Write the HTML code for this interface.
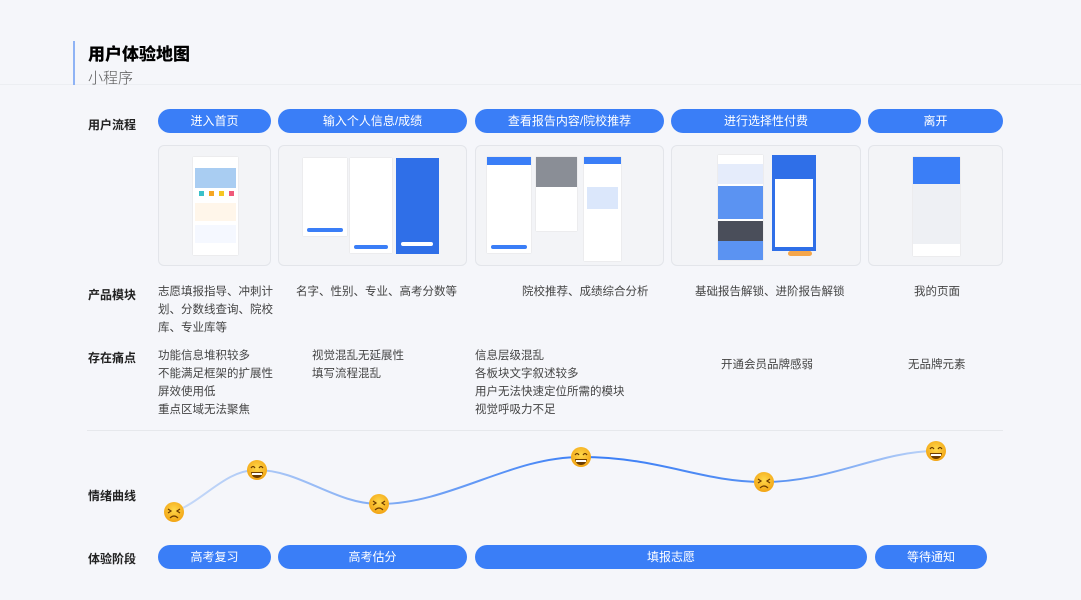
<!DOCTYPE html>
<html><head><meta charset="utf-8"><style>
*{margin:0;padding:0;box-sizing:border-box}
body{width:1081px;height:600px;background:#f5f6fa;position:relative;overflow:hidden;font-family:"Liberation Sans","Noto Sans CJK SC",sans-serif;color:#333}
.a{position:absolute}
.pill{position:absolute;height:24px;border-radius:12px;background:#3a7ef7;color:#fff;font-size:12px;line-height:24px;text-align:center}
.lbl{position:absolute;left:88px;font-size:12px;font-weight:bold;color:#222}
.card{position:absolute;top:145px;height:121px;border:1px solid #e3e5ea;border-radius:6px;background:#f3f4f7}
.ph{position:absolute;background:#fff;box-shadow:0 0 1px #ccc}
.t{position:absolute;font-size:11.5px;line-height:18px;color:#444}
.b{position:absolute;background:#3a7ef7}
.g{position:absolute;background:#e6e9ef}
</style></head><body>
<div class="a" style="left:0;top:84px;width:1081px;height:1px;background:#eceef2"></div>
<div class="a" style="left:73px;top:41px;width:2px;height:44px;background:#8fb3f5"></div>
<div class="a" style="left:88px;top:40px;font-size:17px;font-weight:900;color:#000">用户体验地图</div>
<div class="a" style="left:88px;top:67px;font-size:15px;color:#555;font-weight:300">小程序</div>

<div class="lbl" style="top:116px">用户流程</div>
<div class="pill" style="left:158px;top:109px;width:113px">进入首页</div>
<div class="pill" style="left:278px;top:109px;width:189px">输入个人信息/成绩</div>
<div class="pill" style="left:475px;top:109px;width:189px">查看报告内容/院校推荐</div>
<div class="pill" style="left:671px;top:109px;width:190px">进行选择性付费</div>
<div class="pill" style="left:868px;top:109px;width:135px">离开</div>

<div class="card" style="left:158px;width:113px">
 <div class="ph" style="left:34px;top:11px;width:45px;height:98px">
  <div class="a" style="left:2px;top:11px;width:41px;height:20px;background:#a9cdf2"></div>
  <div class="a" style="left:6px;top:34px;width:5px;height:5px;background:#3bc1c9"></div>
  <div class="a" style="left:16px;top:34px;width:5px;height:5px;background:#f5a623"></div>
  <div class="a" style="left:26px;top:34px;width:5px;height:5px;background:#f5c623"></div>
  <div class="a" style="left:36px;top:34px;width:5px;height:5px;background:#f05a7a"></div>
  <div class="a" style="left:2px;top:46px;width:41px;height:18px;background:#fff6ea"></div>
  <div class="a" style="left:2px;top:68px;width:41px;height:18px;background:#f5f8ff"></div>
 </div>
</div>
<div class="card" style="left:278px;width:189px">
 <div class="ph" style="left:24px;top:12px;width:44px;height:78px"><div class="b" style="left:4px;top:70px;width:36px;height:4px;border-radius:2px"></div></div>
 <div class="ph" style="left:71px;top:12px;width:42px;height:95px"><div class="b" style="left:4px;top:87px;width:34px;height:4px;border-radius:2px"></div></div>
 <div class="b" style="left:117px;top:12px;width:43px;height:96px;background:#2f6fe8"><div class="a" style="left:5px;top:84px;width:32px;height:4px;background:#fff;border-radius:2px"></div></div>
</div>
<div class="card" style="left:475px;width:189px">
 <div class="ph" style="left:11px;top:11px;width:44px;height:96px"><div class="b" style="left:0;top:0;width:44px;height:8px"></div><div class="b" style="left:4px;top:88px;width:36px;height:4px;border-radius:2px"></div></div>
 <div class="ph" style="left:60px;top:11px;width:41px;height:74px"><div class="a" style="left:0;top:0;width:41px;height:30px;background:#8a8e96"></div></div>
 <div class="ph" style="left:108px;top:11px;width:37px;height:104px"><div class="b" style="left:0;top:0;width:37px;height:7px"></div><div class="a" style="left:3px;top:30px;width:31px;height:22px;background:#dbe7fb"></div></div>
</div>
<div class="card" style="left:671px;width:190px">
 <div class="ph" style="left:46px;top:9px;width:45px;height:105px"><div class="a" style="left:0;top:9px;width:45px;height:20px;background:#e5ecfb"></div><div class="b" style="left:0;top:31px;width:45px;height:33px;background:#5b93f2"></div><div class="a" style="left:0;top:66px;width:45px;height:20px;background:#4a4e5a"></div><div class="b" style="left:0;top:86px;width:45px;height:19px;background:#5b93f2"></div></div>
 <div class="b" style="left:100px;top:9px;width:44px;height:96px;background:#2f6fe8"><div class="a" style="left:3px;top:24px;width:38px;height:68px;background:#fff"></div></div>
 <div class="a" style="left:116px;top:105px;width:24px;height:5px;border-radius:3px;background:#f5a64a"></div>
</div>
<div class="card" style="left:868px;width:135px">
 <div class="ph" style="left:44px;top:11px;width:47px;height:99px"><div class="b" style="left:0;top:0;width:47px;height:27px"></div><div class="g" style="left:0;top:27px;width:47px;height:60px;background:#eef0f4"></div></div>
</div>

<div class="lbl" style="top:286px">产品模块</div>
<div class="t" style="left:158px;top:283px;width:118px">志愿填报指导、冲刺计划、分数线查询、院校库、专业库等</div>
<div class="t" style="left:296px;top:283px">名字、性别、专业、高考分数等</div>
<div class="t" style="left:522px;top:283px">院校推荐、成绩综合分析</div>
<div class="t" style="left:695px;top:283px">基础报告解锁、进阶报告解锁</div>
<div class="t" style="left:914px;top:283px">我的页面</div>

<div class="lbl" style="top:349px">存在痛点</div>
<div class="t" style="left:158px;top:347px">功能信息堆积较多<br>不能满足框架的扩展性<br>屏效使用低<br>重点区域无法聚焦</div>
<div class="t" style="left:312px;top:347px">视觉混乱无延展性<br>填写流程混乱</div>
<div class="t" style="left:475px;top:347px">信息层级混乱<br>各板块文字叙述较多<br>用户无法快速定位所需的模块<br>视觉呼吸力不足</div>
<div class="t" style="left:721px;top:356px">开通会员品牌感弱</div>
<div class="t" style="left:908px;top:356px">无品牌元素</div>

<div class="a" style="left:87px;top:430px;width:916px;height:1px;background:#e6e8ec"></div>
<div class="lbl" style="top:487px">情绪曲线</div>
<svg class="a" style="left:0;top:0" width="1081" height="600">
<defs><linearGradient id="lg" x1="174" y1="0" x2="936" y2="0" gradientUnits="userSpaceOnUse"><stop offset="0" stop-color="#c9dbf8"/><stop offset="0.3" stop-color="#7aa8f4"/><stop offset="0.55" stop-color="#3a7ef7"/><stop offset="0.8" stop-color="#5b93f2"/><stop offset="1" stop-color="#c0d6f8"/></linearGradient>
<radialGradient id="em" cx="0.5" cy="0.4" r="0.6"><stop offset="0" stop-color="#ffd84a"/><stop offset="1" stop-color="#f2a414"/></radialGradient>
<g id="sad"><circle r="10" fill="url(#em)"/><path d="M-6,-3 l3,2 l-3,2 M6,-3 l-3,2 l3,2 M-4,6 q4,-4 8,0" stroke="#6b3b00" stroke-width="1.2" fill="none"/></g>
<g id="hap"><circle r="10" fill="url(#em)"/><path d="M-6,-2 q2,-3 4,0 M2,-2 q2,-3 4,0" stroke="#6b3b00" stroke-width="1.2" fill="none"/><path d="M-6,2 h12 q-1,6 -6,6 q-5,0 -6,-6z" fill="#6b3b00"/><path d="M-5,3 h10 v2 h-10z" fill="#fff"/></g>
</defs>
<path d="M174,512 C205,500 225,470 257,470 C300,470 335,504 379,504 C450,504 510,457 581,457 C660,457 700,482 764,482 C830,482 880,451 936,451" fill="none" stroke="url(#lg)" stroke-width="2"/>
<use href="#sad" x="174" y="512"/><use href="#hap" x="257" y="470"/><use href="#sad" x="379" y="504"/><use href="#hap" x="581" y="457"/><use href="#sad" x="764" y="482"/><use href="#hap" x="936" y="451"/>
</svg>

<div class="lbl" style="top:550px">体验阶段</div>
<div class="pill" style="left:158px;top:545px;width:113px">高考复习</div>
<div class="pill" style="left:278px;top:545px;width:189px">高考估分</div>
<div class="pill" style="left:475px;top:545px;width:392px">填报志愿</div>
<div class="pill" style="left:875px;top:545px;width:112px">等待通知</div>
</body></html>
